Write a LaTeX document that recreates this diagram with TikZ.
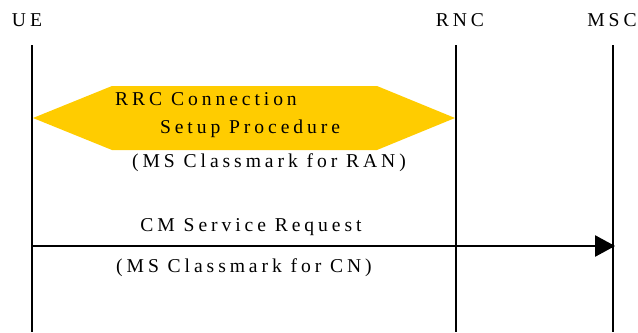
\documentclass[tikz,border=0pt]{standalone}
\usepackage{fontspec}
\setmainfont{Liberation Serif}[LetterSpace=20]
\usetikzlibrary{arrows.meta}

\tikzset{
  lifeline/.style={line width=1.2pt},
  msgline/.style={line width=1.2pt,-{Triangle[length=15pt,width=16pt]}},
  lbl/.style={inner sep=0.75pt,font=\fontsize{14.7}{17}\selectfont},
}

\begin{document}
\begin{tikzpicture}[x=0.75pt,y=0.75pt,yscale=-1,xscale=1]
\useasboundingbox (0,0) rectangle (638,332);

% Entity labels
\draw (27,20) node [lbl] (ue) {UE};
\draw (460,20) node [lbl] (rnc) {RNC};
\draw (612,20) node [lbl] (msc) {MSC};

% Lifelines
\coordinate (ueTop) at (32,45);
\coordinate (ueBot) at (32,332);
\coordinate (rncTop) at (456,45);
\coordinate (rncBot) at (456,332);
\coordinate (mscTop) at (613,45);
\coordinate (mscBot) at (613,332);
\draw [lifeline] (ueTop) -- (ueBot);
\draw [lifeline] (rncTop) -- (rncBot);
\draw [lifeline] (mscTop) -- (mscBot);

%Shape: Hexagon
\fill [fill={rgb,255:red,255;green,204;blue,0}] (33,118) -- (112,86) -- (377,86) -- (455,118) -- (377,150) -- (112,150) -- cycle;

% Text Node
\draw (206,99) node [lbl] (rrcA) {RRC Connection};
\draw (250,129) node [lbl] (rrcB) {Setup Procedure};
\draw (269,163) node [lbl] (ran) {(MS Classmark for RAN)};

% Message
\coordinate (msgFrom) at (32,246);
\coordinate (msgTo) at (615,246);
\draw [msgline] (msgFrom) -- (msgTo);

% Text Node
\draw (251,227) node [lbl] (cmreq) {CM Service Request};
\draw (244,268) node [lbl] (cn) {(MS Classmark for CN)};

\end{tikzpicture}
\end{document}
